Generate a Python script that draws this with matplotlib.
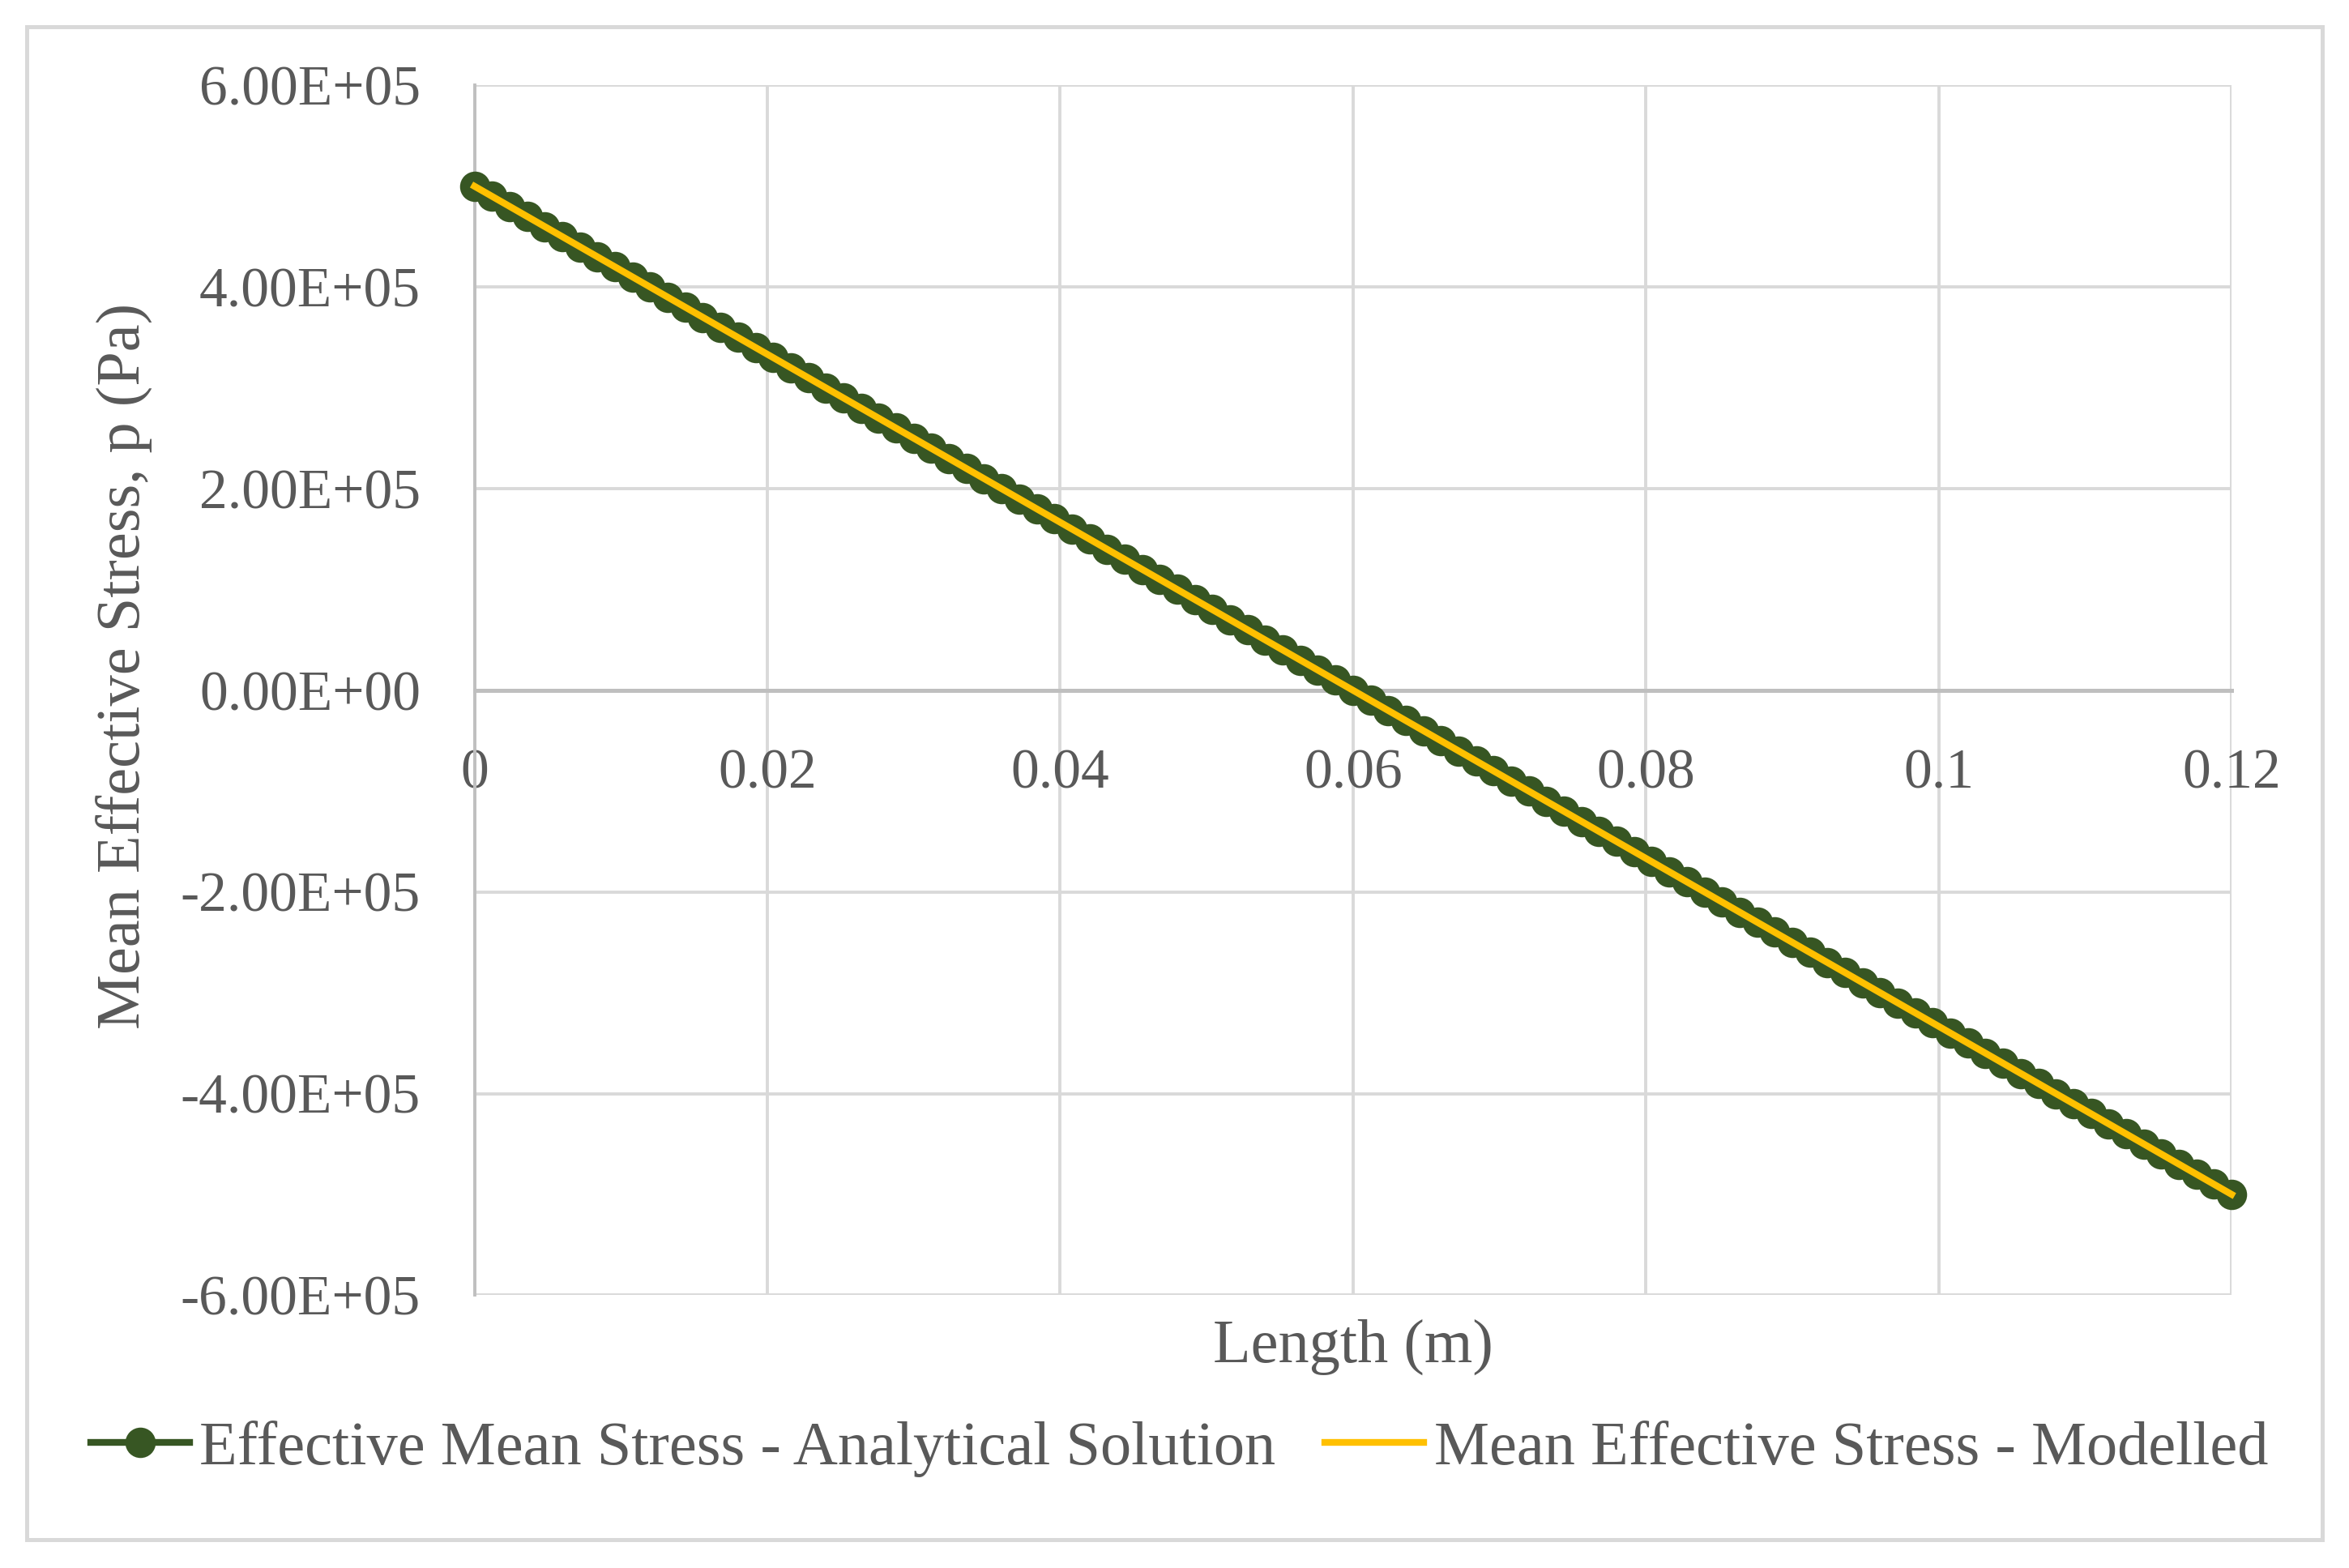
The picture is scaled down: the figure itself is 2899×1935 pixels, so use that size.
import numpy as np
import matplotlib.pyplot as plt
from matplotlib.patches import Rectangle
from matplotlib.ticker import FuncFormatter

# Length along sample (m)
length_m = [
    0.0000, 0.0012, 0.0024, 0.0036, 0.0048, 0.0060, 0.0072, 0.0084, 0.0096, 0.0108,
    0.0120, 0.0132, 0.0144, 0.0156, 0.0168, 0.0180, 0.0192, 0.0204, 0.0216, 0.0228,
    0.0240, 0.0252, 0.0264, 0.0276, 0.0288, 0.0300, 0.0312, 0.0324, 0.0336, 0.0348,
    0.0360, 0.0372, 0.0384, 0.0396, 0.0408, 0.0420, 0.0432, 0.0444, 0.0456, 0.0468,
    0.0480, 0.0492, 0.0504, 0.0516, 0.0528, 0.0540, 0.0552, 0.0564, 0.0576, 0.0588,
    0.0600, 0.0612, 0.0624, 0.0636, 0.0648, 0.0660, 0.0672, 0.0684, 0.0696, 0.0708,
    0.0720, 0.0732, 0.0744, 0.0756, 0.0768, 0.0780, 0.0792, 0.0804, 0.0816, 0.0828,
    0.0840, 0.0852, 0.0864, 0.0876, 0.0888, 0.0900, 0.0912, 0.0924, 0.0936, 0.0948,
    0.0960, 0.0972, 0.0984, 0.0996, 0.1008, 0.1020, 0.1032, 0.1044, 0.1056, 0.1068,
    0.1080, 0.1092, 0.1104, 0.1116, 0.1128, 0.1140, 0.1152, 0.1164, 0.1176, 0.1188,
    0.1200]

# mean effective stress, analytical (Pa)
p_analytical = [
    500000, 490000, 480000, 470000, 460000, 450000, 440000, 430000, 420000, 410000,
    400000, 390000, 380000, 370000, 360000, 350000, 340000, 330000, 320000, 310000,
    300000, 290000, 280000, 270000, 260000, 250000, 240000, 230000, 220000, 210000,
    200000, 190000, 180000, 170000, 160000, 150000, 140000, 130000, 120000, 110000,
    100000, 90000, 80000, 70000, 60000, 50000, 40000, 30000, 20000, 10000,
    0, -10000, -20000, -30000, -40000, -50000, -60000, -70000, -80000, -90000,
    -100000, -110000, -120000, -130000, -140000, -150000, -160000, -170000, -180000, -190000,
    -200000, -210000, -220000, -230000, -240000, -250000, -260000, -270000, -280000, -290000,
    -300000, -310000, -320000, -330000, -340000, -350000, -360000, -370000, -380000, -390000,
    -400000, -410000, -420000, -430000, -440000, -450000, -460000, -470000, -480000, -490000,
    -500000]

# modelled result sits right on top of the analytical one
p_modelled = list(p_analytical)

x_ticks = [0, 0.02, 0.04, 0.06, 0.08, 0.1, 0.12]
x_ticklabels = ['0', '0.02', '0.04', '0.06', '0.08', '0.1', '0.12']
y_ticks = [-600000, -400000, -200000, 0, 200000, 400000, 600000]

txt_col = '#595959'
plt.rcParams['font.family'] = ['Liberation Serif', 'DejaVu Serif']
plt.rcParams['font.size'] = 25

fig = plt.figure(figsize=(14.495, 9.675), dpi=200)
ax = fig.add_axes([0.202, 0.174, 0.748, 0.7715])

ax.plot(length_m, p_analytical, '-o', color='#375623', lw=3, ms=12.5,
        label='Effective Mean Stress - Analytical Solution', zorder=3, clip_on=False)
ax.plot(length_m, p_modelled, '-', color='#FFC000', lw=3,
        label='Mean Effective Stress - Modelled', zorder=4, clip_on=False)

ax.set_xlim(0, 0.12)
ax.set_ylim(-600000, 600000)
ax.set_xticks(x_ticks)
ax.set_xticklabels(x_ticklabels)
ax.set_yticks(y_ticks)
ax.yaxis.set_major_formatter(FuncFormatter(lambda v, pos: '{:.2E}'.format(v)))

ax.grid(True, color='#D9D9D9', lw=1.4, zorder=0)
ax.set_axisbelow(True)
for s in ['top', 'right']:
    ax.spines[s].set_visible(False)
ax.spines['bottom'].set_position(('data', 0))
ax.spines['bottom'].set_color('#BFBFBF')
ax.spines['bottom'].set_linewidth(1.8)
ax.spines['left'].set_color('#BFBFBF')
ax.spines['left'].set_linewidth(1.4)
ax.tick_params(axis='x', length=0, pad=26, colors=txt_col)
ax.tick_params(axis='y', length=0, pad=24, colors=txt_col)

ax.set_xlabel('Length (m)', color=txt_col, fontsize=27.5)
ax.set_ylabel('Mean Effective Stress, p (Pa)', color=txt_col, fontsize=27.5)
ax.xaxis.set_label_coords(0.5, -0.02)
ax.yaxis.set_label_coords(-0.183, 0.52)

leg = fig.legend(loc='center', bbox_to_anchor=(0.502, 0.076), ncol=2,
                 frameon=False, handlelength=1.6, handletextpad=0.16,
                 columnspacing=0.8, fontsize=27.5)
for t in leg.get_texts():
    t.set_color(txt_col)

# chart border
fig.patches.append(Rectangle((0.0115, 0.018), 0.977, 0.965, transform=fig.transFigure,
                             fill=False, edgecolor='#D9D9D9', lw=1.8))

fig.savefig('out.png', dpi=200)
